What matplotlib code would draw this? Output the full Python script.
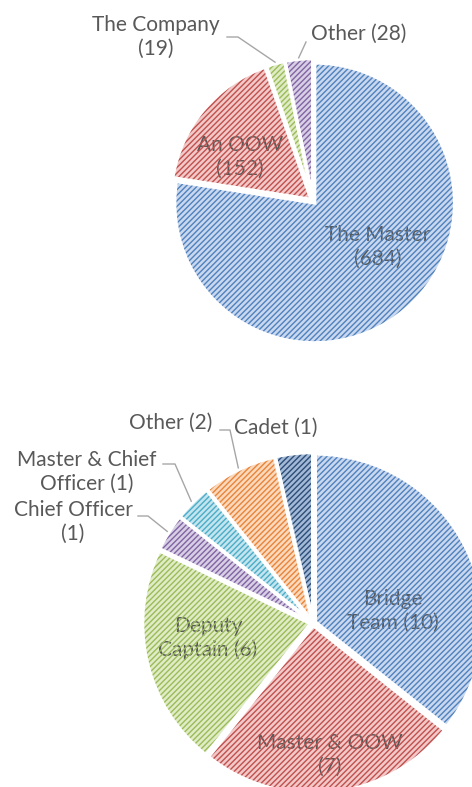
import numpy as np
import matplotlib
matplotlib.use("Agg")
from matplotlib import pyplot as plt

# top chart
top_labels = ["The Master\n(684)", "An OOW\n(152)", "The Company\n(19)", "Other (28)"]
top_values = [684, 152, 19, 28]

# bottom chart
bot_labels = ["Bridge\nTeam (10)", "Master & OOW\n(7)", "Deputy\nCaptain (6)",
              "Chief Officer\n(1)", "Master & Chief\nOfficer (1)", "Other (2)", "Cadet (1)"]
bot_values = [10, 7, 6, 1, 1, 2, 1]

# office-style palette: (light face, pattern colour)
BLUE = ("#c9d8ef", "#4f81bd")
RED = ("#f2c9c8", "#c0504d")
GREEN = ("#e0ecc6", "#9bbb59")
PURPLE = ("#d8cfe6", "#8064a2")
AQUA = ("#c2e5ef", "#4bacc6")
ORANGE = ("#fcd9bc", "#e8843a")
NAVY = ("#a3b9d8", "#2c4d75")

top_colors = [BLUE, RED, GREEN, PURPLE]
bot_colors = [BLUE, RED, GREEN, PURPLE, AQUA, ORANGE, NAVY]

W, H = 472, 787
TEXT = "#595959"
LEADER = "#a6a6a6"

plt.rcParams["font.family"] = ["Lato", "DejaVu Sans"]
plt.rcParams["hatch.linewidth"] = 1.0


def py(y):
    # pixel row -> data y
    return H - y


def draw_pie(ax, values, colors, center, radius, explode, labels, label_pos, leaders):
    faces = [c[0] for c in colors]
    darks = [c[1] for c in colors]
    kw = dict(startangle=90, counterclock=False, center=center, radius=radius,
              explode=[explode] * len(values))
    wedges, _ = ax.pie(values, colors=faces, wedgeprops=dict(linewidth=0), **kw)
    for w in wedges:
        w.set_zorder(1)
    # labels sit under the pattern, like the original
    for lab, (x, y) in zip(labels, label_pos):
        ax.text(x, py(y), lab, ha="center", va="center", fontsize=15,
                color=TEXT, zorder=2, linespacing=1.2)
    hatched, _ = ax.pie(values, wedgeprops=dict(linewidth=0), **kw)
    for w, d in zip(hatched, darks):
        w.set_facecolor("none")
        w.set_edgecolor(d)
        w.set_hatch("//////")
        w.set_zorder(3)
    outlines, _ = ax.pie(values, wedgeprops=dict(linewidth=2.5, edgecolor="white",
                                                 facecolor="none"), **kw)
    for w in outlines:
        w.set_zorder(4)
    # leader lines from the wedge rim to the label
    for w, lead in zip(wedges, leaders):
        if lead is None:
            continue
        th = np.deg2rad((w.theta1 + w.theta2) / 2)
        cx, cy = w.center
        rim = (cx + w.r * 1.01 * np.cos(th), cy + w.r * 1.01 * np.sin(th))
        pts = [(x, py(y)) for x, y in lead] + [rim]
        xs, ys = zip(*pts)
        ax.plot(xs, ys, color=LEADER, lw=1, zorder=5)


fig = plt.figure(figsize=(W / 100, H / 100), dpi=100)
ax = fig.add_axes([0, 0, 1, 1])

draw_pie(ax, top_values, top_colors, (313, py(201)), 140, 2.5, top_labels,
         [(378, 247), (240, 157), (156, 37), (359, 34)],
         [None, None, [(227, 37), (238, 37)], [(306, 42)]])

draw_pie(ax, bot_values, bot_colors, (313, py(623)), 168, 2.5, bot_labels,
         [(393, 611), (330, 755), (208, 638), (73, 522), (87, 472), (171, 423), (276, 428)],
         [None, None, None, [(138, 516), (148, 516)], [(163, 464), (175, 464)],
          [(220, 430), (230, 430)], None])

# pie() resets the limits, so set them last
ax.set_xlim(0, W)
ax.set_ylim(0, H)
ax.set_aspect("equal")
ax.axis("off")

fig.savefig("out.png", dpi=100)
